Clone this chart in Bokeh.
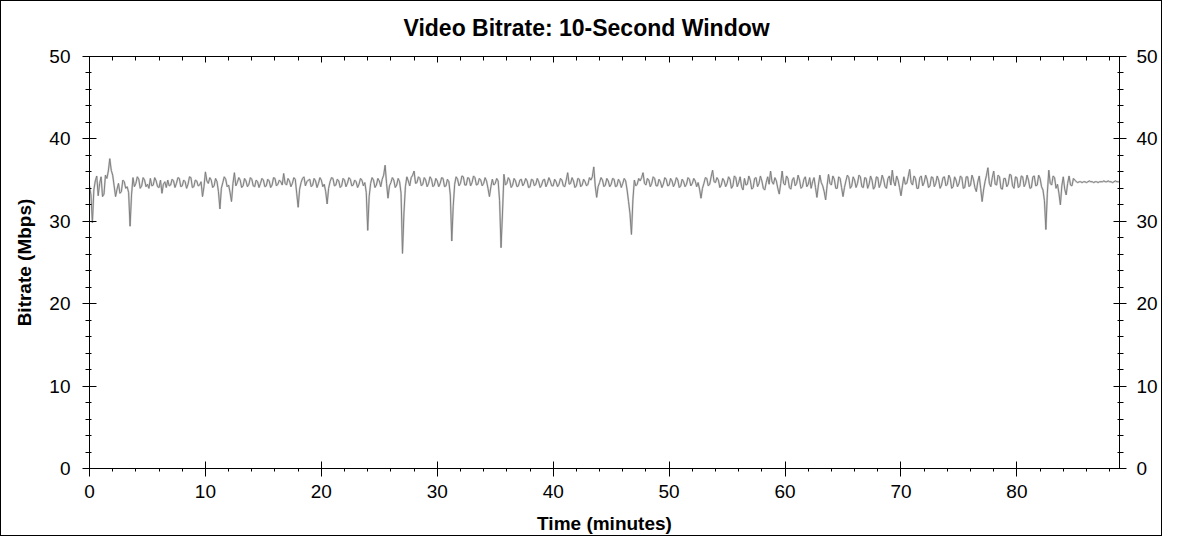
import numpy as np
from bokeh.plotting import figure
from bokeh.models import LinearAxis, FixedTicker, Range1d, Title
from bokeh.embed import file_html
from bokeh.resources import INLINE

# 10-second window bitrate, every 1/8 minute
step_minutes = 0.125
bitrate_mbps = [
    34.3, 33.2, 29.8, 33.8, 34.9, 35.5, 33.1, 34.6, 35.4, 33.0, 33.3, 35.6, 35.2, 36.1, 37.6, 36.2, 35.6, 34.3, 33.0, 33.9,
    34.6, 33.4, 33.6, 35.0, 34.8, 34.0, 34.2, 33.5, 29.4, 33.2, 35.3, 34.2, 34.6, 35.4, 35.1, 34.0, 34.3, 35.3, 35.0, 34.2,
    34.5, 34.0, 35.2, 34.3, 34.4, 35.3, 34.9, 34.2, 34.1, 35.0, 33.4, 34.5, 34.8, 34.1, 35.0, 34.3, 34.4, 35.1, 34.9, 34.1,
    34.6, 35.3, 35.2, 34.2, 34.3, 35.0, 34.8, 34.0, 34.5, 35.4, 35.3, 34.1, 34.2, 35.0, 34.9, 34.3, 34.4, 34.8, 33.0, 34.2,
    36.0, 34.9, 34.6, 35.3, 35.0, 34.1, 34.3, 35.2, 34.8, 33.6, 31.5, 34.0, 34.7, 35.4, 35.1, 34.2, 34.4, 33.5, 32.4, 34.6,
    35.9, 34.3, 34.7, 35.3, 35.0, 34.1, 34.3, 35.2, 34.9, 34.2, 34.5, 35.3, 35.1, 34.3, 34.2, 35.0, 34.8, 34.1, 34.6, 35.2,
    35.0, 34.2, 34.3, 35.1, 34.9, 34.1, 34.4, 35.3, 35.2, 34.3, 34.5, 35.0, 34.8, 34.4, 35.8, 34.6, 34.4, 35.2, 34.9, 34.2,
    34.6, 35.3, 35.1, 33.4, 31.7, 33.9, 34.7, 35.2, 35.4, 34.3, 34.8, 35.0, 35.1, 34.2, 34.4, 35.2, 34.9, 34.1, 34.6, 35.3,
    35.0, 34.2, 34.5, 33.6, 32.1, 34.0, 34.8, 35.3, 35.2, 34.3, 34.4, 35.1, 34.9, 34.1, 34.3, 35.2, 35.0, 34.2, 34.6, 35.3,
    35.1, 34.3, 34.4, 35.0, 34.8, 34.1, 34.5, 35.2, 35.0, 34.3, 34.7, 33.5, 28.9, 33.0, 34.6, 35.3, 35.0, 34.1, 34.4, 35.2,
    34.9, 34.2, 35.1, 35.6, 36.8, 34.6, 32.8, 34.3, 34.7, 35.3, 35.0, 34.1, 34.4, 35.2, 34.8, 33.4, 26.1, 31.0, 34.2, 35.4,
    34.9, 34.3, 35.3, 35.6, 36.1, 34.6, 34.7, 35.4, 35.2, 34.3, 34.5, 35.3, 35.0, 34.2, 34.6, 35.4, 35.1, 34.2, 34.4, 35.2,
    34.9, 34.2, 34.6, 35.3, 35.2, 34.2, 34.3, 35.1, 34.8, 33.2, 27.6, 31.8, 34.5, 35.4, 35.1, 34.3, 34.6, 35.5, 35.4, 34.4,
    34.4, 35.3, 35.2, 34.3, 34.7, 35.5, 35.3, 34.4, 34.5, 35.2, 35.0, 34.3, 34.6, 35.3, 34.9, 34.0, 33.0, 34.2, 35.1, 34.4,
    34.6, 35.2, 34.9, 32.5, 26.8, 31.0, 35.7, 34.4, 34.6, 35.3, 35.0, 34.1, 34.4, 35.2, 34.9, 34.2, 34.3, 35.0, 35.1, 34.3,
    34.6, 35.2, 34.9, 34.1, 34.2, 35.1, 35.0, 34.3, 34.5, 35.2, 34.8, 34.1, 34.4, 35.0, 35.1, 34.2, 34.6, 35.3, 34.9, 34.3,
    34.3, 35.1, 34.8, 34.2, 34.5, 35.2, 35.0, 34.3, 34.2, 35.0, 35.9, 34.5, 34.6, 35.3, 34.9, 34.1, 34.3, 35.2, 35.1, 34.2,
    34.4, 35.1, 34.8, 34.3, 34.5, 35.3, 35.0, 35.4, 36.6, 34.3, 32.9, 34.2, 34.7, 35.3, 35.0, 34.2, 34.4, 35.2, 34.9, 34.2,
    34.5, 35.2, 35.1, 34.2, 34.3, 35.1, 34.8, 34.1, 34.6, 35.2, 34.9, 33.8, 32.4, 30.9, 28.4, 32.6, 35.0, 34.3, 34.5, 35.2,
    34.9, 35.3, 35.9, 34.6, 34.4, 35.2, 35.0, 34.2, 34.6, 35.4, 35.2, 34.3, 34.3, 35.1, 34.8, 34.1, 34.5, 35.3, 35.1, 34.3,
    34.4, 35.2, 34.9, 34.2, 34.6, 35.3, 35.0, 34.1, 34.3, 35.1, 34.8, 34.2, 34.5, 35.3, 35.1, 34.3, 34.6, 35.2, 34.9, 34.2,
    34.7, 33.9, 32.8, 34.0, 34.6, 35.3, 35.2, 34.3, 34.5, 35.4, 36.2, 34.8, 34.7, 35.3, 35.0, 34.1, 34.4, 35.2, 34.9, 34.2,
    34.6, 35.4, 35.1, 34.0, 34.3, 35.5, 35.3, 34.2, 34.7, 35.4, 34.2, 33.8, 35.2, 34.4, 34.5, 35.5, 35.0, 33.9, 34.1, 35.2,
    35.3, 34.2, 34.6, 35.5, 34.9, 34.0, 33.8, 34.7, 35.4, 34.5, 36.1, 34.8, 34.5, 35.3, 34.9, 34.0, 33.3, 34.6, 36.1, 34.6,
    34.4, 35.5, 35.2, 34.1, 33.9, 35.0, 35.3, 34.3, 34.6, 35.6, 35.0, 34.0, 34.2, 35.1, 35.4, 34.2, 34.5, 35.3, 34.0, 34.8,
    35.3, 34.1, 32.9, 34.4, 35.6, 34.7, 34.3, 33.6, 32.6, 34.3, 35.7, 34.6, 34.4, 35.5, 35.1, 34.0, 34.0, 35.4, 35.2, 34.1,
    33.0, 34.1, 34.9, 35.6, 35.3, 34.0, 34.3, 35.4, 35.0, 34.1, 34.6, 35.6, 35.4, 34.2, 34.1, 35.3, 35.2, 34.0, 34.5, 35.5,
    35.0, 33.9, 34.2, 35.4, 35.3, 34.1, 34.6, 35.6, 35.1, 34.2, 34.0, 35.2, 35.5, 34.4, 36.2, 34.8, 34.3, 35.5, 35.0, 34.1,
    33.1, 34.3, 35.4, 34.5, 34.6, 35.4, 36.3, 34.7, 34.4, 35.5, 35.2, 34.0, 34.0, 35.3, 35.5, 34.3, 34.7, 35.6, 35.1, 34.1,
    34.3, 35.4, 35.3, 34.2, 34.6, 35.5, 35.0, 34.0, 34.4, 35.3, 35.4, 34.3, 34.5, 35.6, 35.2, 34.0, 34.2, 35.4, 35.0, 34.2,
    34.6, 35.5, 35.3, 34.0, 34.1, 35.4, 35.4, 34.2, 34.4, 35.6, 35.1, 34.1, 33.6, 34.8, 35.5, 34.0, 32.4, 33.8, 34.8, 35.6,
    36.5, 34.6, 34.2, 35.3, 36.1, 34.5, 34.4, 35.6, 35.4, 34.0, 33.9, 35.2, 35.2, 34.2, 34.5, 35.7, 35.6, 34.3, 34.0, 35.4,
    35.3, 34.1, 34.3, 35.5, 35.4, 34.2, 34.6, 35.6, 35.0, 34.0, 34.1, 35.4, 35.5, 34.3, 34.4, 35.6, 35.2, 34.2, 33.8, 32.5,
    29.0, 33.4, 36.2, 34.6, 34.4, 35.5, 35.3, 34.0, 34.5, 33.4, 32.0, 34.3, 35.4, 33.9, 33.2, 34.6, 35.5, 34.4, 34.3, 35.2,
    35.0, 34.8, 34.7, 34.8, 34.8, 34.7, 34.8, 34.8, 34.7, 34.8, 34.9, 34.8, 34.8, 34.7, 34.8, 34.8, 34.7, 34.8, 34.8, 34.8,
    34.9, 34.8, 34.8, 34.9, 34.8, 34.8, 34.7, 34.8, 34.9, 34.8, 34.8, 34.8,
]
time_minutes = np.arange(len(bitrate_mbps)) * step_minutes

x_major = [0, 10, 20, 30, 40, 50, 60, 70, 80]
x_minor = list(range(0, 89, 2))
y_major = [0, 10, 20, 30, 40, 50]
y_minor = list(range(0, 51, 2))

FONT = "Liberation Sans"

p = figure(width=1162, height=536,
           x_range=Range1d(0, 88.85), y_range=Range1d(0, 50),
           output_backend="svg", toolbar_location=None,
           min_border_left=88, min_border_right=44,
           min_border_top=55, min_border_bottom=69,
           outline_line_color="black",
           background_fill_color="white", border_fill_color="white")
p.styles = {"border": "1px solid black"}
p.xgrid.visible = False
p.ygrid.visible = False

p.line(time_minutes, bitrate_mbps, line_color="#d4d4d4", line_width=2)
p.line(time_minutes, bitrate_mbps, line_color="#7f7f7f", line_width=1)


def style_axis(ax, major_in, major_out, minor_in, minor_out, standoff):
    ax.axis_line_color = "black"
    ax.major_tick_line_color = "black"
    ax.minor_tick_line_color = "black"
    ax.major_tick_in = major_in
    ax.major_tick_out = major_out
    ax.minor_tick_in = minor_in
    ax.minor_tick_out = minor_out
    ax.major_label_standoff = standoff
    ax.major_label_text_font = FONT
    ax.major_label_text_font_size = "19px"
    ax.major_label_text_color = "black"
    ax.axis_label_text_font = FONT
    ax.axis_label_text_font_size = "19px"
    ax.axis_label_text_font_style = "bold"
    ax.axis_label_text_color = "black"


xaxis = p.xaxis[0]
xaxis.ticker = FixedTicker(ticks=x_major, minor_ticks=x_minor)
xaxis.axis_label = "Time (minutes)"
style_axis(xaxis, 7, 8, 0, 3, 8)
xaxis.axis_label_standoff = 12

yaxis = p.yaxis[0]
yaxis.ticker = FixedTicker(ticks=y_major, minor_ticks=y_minor)
yaxis.axis_label = "Bitrate (Mbps)"
style_axis(yaxis, 7, 7, 2, 4, 12)
yaxis.axis_label_standoff = 11

right_axis = LinearAxis(ticker=FixedTicker(ticks=y_major, minor_ticks=y_minor))
style_axis(right_axis, 6, 7, 2, 4, 10)
p.add_layout(right_axis, "right")

# ticks only along the top edge
top_axis = LinearAxis(ticker=FixedTicker(ticks=x_major, minor_ticks=x_minor))
style_axis(top_axis, 6, 0, 4, 0, 0)
top_axis.major_label_text_color = None
p.add_layout(top_axis, "above")

# transparent axis used only as a gap between the frame and the title
gap_axis = LinearAxis(ticker=FixedTicker(ticks=x_major, minor_ticks=[]))
style_axis(gap_axis, 0, 16, 0, 0, 0)
gap_axis.axis_line_alpha = 0
gap_axis.major_tick_line_alpha = 0
gap_axis.minor_tick_line_alpha = 0
gap_axis.major_label_text_color = None
p.add_layout(gap_axis, "above")

p.add_layout(Title(text="Video Bitrate: 10-Second Window", align="left", offset=314,
                   text_font=FONT, text_font_size="23px", text_font_style="bold",
                   text_color="black", standoff=0), "above")

open("out.html", "w").write(file_html(p, INLINE))
